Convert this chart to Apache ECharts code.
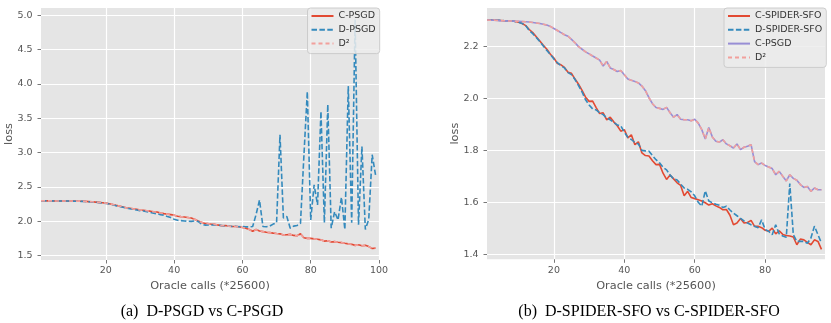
<!DOCTYPE html>
<html><head><meta charset="utf-8">
<script src="https://cdn.jsdelivr.net/npm/echarts@6/dist/echarts.min.js"></script>
<style>
html,body{margin:0;padding:0;background:#fff;width:831px;height:323px;overflow:hidden}
#a{position:absolute;left:0;top:0;width:420px;height:323px}
#b{position:absolute;left:420px;top:0;width:411px;height:323px}
</style>
</head><body><div id="a"></div><div id="b"></div>
<script>
// ---------- data ----------
const leftCPSGD = [2.300,2.299,2.298,2.298,2.297,2.297,2.296,2.296,2.295,2.295,
  2.294,2.293,2.292,2.290,2.287,2.284,2.280,2.276,2.271,2.265,
  2.255,2.245,2.232,2.222,2.210,2.198,2.190,2.182,2.175,2.165,
  2.162,2.155,2.148,2.140,2.135,2.120,2.112,2.105,2.098,2.090,
  2.075,2.068,2.062,2.055,2.048,2.030,2.005,1.985,1.968,1.966,
  1.958,1.955,1.945,1.935,1.940,1.930,1.925,1.924,1.922,1.910,
  1.900,1.880,1.855,1.880,1.860,1.850,1.840,1.835,1.828,1.822,
  1.818,1.800,1.805,1.810,1.795,1.790,1.820,1.760,1.752,1.752,
  1.745,1.738,1.730,1.712,1.718,1.700,1.705,1.695,1.690,1.680,
  1.672,1.665,1.650,1.658,1.645,1.650,1.632,1.604,1.610];
const leftDPSGD = [2.300,2.299,2.298,2.298,2.297,2.297,2.296,2.295,2.295,2.294,
  2.293,2.292,2.290,2.288,2.285,2.282,2.278,2.273,2.268,2.262,
  2.252,2.240,2.228,2.216,2.204,2.192,2.184,2.175,2.165,2.155,
  2.150,2.140,2.130,2.118,2.110,2.098,2.090,2.072,2.055,2.030,
  2.015,2.010,2.005,2.002,2.000,2.005,2.000,1.960,1.945,1.948,
  1.946,1.950,1.945,1.938,1.930,1.932,1.925,1.928,1.922,1.925,
  1.920,1.918,1.925,2.100,2.310,1.925,1.920,1.930,1.960,1.980,
  3.260,2.050,2.070,1.900,1.930,1.940,1.970,2.950,3.890,2.020,
  2.530,2.240,3.600,1.980,3.700,1.900,2.140,2.020,2.350,1.880,
  3.970,1.980,4.940,1.950,3.090,1.880,2.030,2.970,2.670];
const leftD2 = [2.300,2.299,2.298,2.298,2.297,2.297,2.296,2.296,2.295,2.295,
  2.294,2.293,2.292,2.290,2.287,2.284,2.280,2.276,2.271,2.265,
  2.255,2.245,2.232,2.222,2.210,2.198,2.190,2.182,2.175,2.165,
  2.162,2.155,2.148,2.140,2.135,2.120,2.112,2.105,2.098,2.090,
  2.075,2.068,2.062,2.055,2.048,2.030,2.005,1.985,1.968,1.966,
  1.958,1.955,1.945,1.935,1.940,1.930,1.925,1.924,1.922,1.910,
  1.900,1.880,1.855,1.880,1.860,1.850,1.840,1.835,1.828,1.822,
  1.818,1.800,1.805,1.810,1.795,1.790,1.820,1.760,1.752,1.752,
  1.745,1.738,1.730,1.712,1.718,1.700,1.705,1.695,1.690,1.680,
  1.672,1.665,1.650,1.658,1.645,1.650,1.632,1.604,1.610];

const rightCSPIDER = [2.303,2.303,2.302,2.302,2.301,2.300,2.300,2.299,2.297,2.294,
  2.289,2.281,2.266,2.254,2.238,2.222,2.205,2.190,2.171,2.156,
  2.135,2.130,2.120,2.101,2.097,2.075,2.055,2.031,2.005,1.989,
  1.990,1.965,1.942,1.945,1.918,1.928,1.910,1.895,1.874,1.880,
  1.848,1.860,1.822,1.833,1.790,1.780,1.778,1.760,1.745,1.746,
  1.712,1.688,1.705,1.690,1.675,1.665,1.625,1.642,1.618,1.614,
  1.610,1.605,1.598,1.589,1.594,1.586,1.580,1.571,1.572,1.550,
  1.513,1.520,1.537,1.520,1.522,1.530,1.507,1.507,1.502,1.492,
  1.488,1.500,1.478,1.490,1.476,1.472,1.470,1.466,1.436,1.458,
  1.455,1.445,1.436,1.455,1.449,1.418];
const rightDSPIDER = [2.303,2.303,2.302,2.302,2.301,2.300,2.300,2.299,2.297,2.294,
  2.289,2.281,2.262,2.250,2.235,2.220,2.202,2.185,2.170,2.152,
  2.138,2.126,2.118,2.100,2.092,2.073,2.050,2.025,1.995,1.975,
  1.960,1.956,1.945,1.938,1.925,1.918,1.908,1.898,1.895,1.870,
  1.850,1.842,1.830,1.825,1.800,1.798,1.797,1.780,1.764,1.752,
  1.735,1.725,1.705,1.690,1.686,1.670,1.655,1.650,1.640,1.625,
  1.600,1.585,1.644,1.605,1.598,1.592,1.588,1.580,1.585,1.570,
  1.558,1.548,1.538,1.528,1.520,1.513,1.507,1.502,1.532,1.495,
  1.488,1.475,1.513,1.478,1.470,1.465,1.672,1.475,1.449,1.449,
  1.449,1.442,1.462,1.508,1.475,1.442];
const rightCPSGD = [2.303,2.302,2.302,2.301,2.300,2.300,2.299,2.299,2.298,2.298,
  2.297,2.296,2.295,2.293,2.291,2.289,2.286,2.283,2.278,2.270,
  2.262,2.254,2.246,2.240,2.228,2.215,2.200,2.190,2.180,2.172,
  2.164,2.156,2.148,2.125,2.143,2.118,2.112,2.104,2.108,2.092,
  2.075,2.070,2.066,2.060,2.048,2.030,2.003,1.980,1.965,1.962,
  1.958,1.966,1.945,1.928,1.938,1.920,1.918,1.918,1.914,1.920,
  1.905,1.880,1.844,1.888,1.852,1.835,1.832,1.841,1.825,1.818,
  1.809,1.825,1.803,1.812,1.816,1.822,1.757,1.745,1.751,1.742,
  1.736,1.730,1.706,1.719,1.700,1.682,1.706,1.692,1.685,1.668,
  1.657,1.661,1.642,1.655,1.648,1.648];
const rightD2 = [2.303,2.302,2.302,2.301,2.300,2.300,2.299,2.299,2.298,2.298,
  2.297,2.296,2.295,2.293,2.291,2.289,2.286,2.283,2.278,2.270,
  2.262,2.254,2.246,2.240,2.228,2.215,2.200,2.190,2.180,2.172,
  2.164,2.156,2.148,2.125,2.143,2.118,2.112,2.104,2.108,2.092,
  2.075,2.070,2.066,2.060,2.048,2.030,2.003,1.980,1.965,1.962,
  1.958,1.966,1.945,1.928,1.938,1.920,1.918,1.918,1.914,1.920,
  1.905,1.880,1.844,1.888,1.852,1.835,1.832,1.841,1.825,1.818,
  1.809,1.825,1.803,1.812,1.816,1.822,1.757,1.745,1.751,1.742,
  1.736,1.730,1.706,1.719,1.700,1.682,1.706,1.692,1.685,1.668,
  1.657,1.661,1.642,1.655,1.648,1.648];

const xTicksLeft = [20, 40, 60, 80, 100];
const yTicksLeft = [1.5, 2.0, 2.5, 3.0, 3.5, 4.0, 4.5, 5.0];
const xTicksRight = [20, 40, 60, 80];
const yTicksRight = [1.4, 1.6, 1.8, 2.0, 2.2];
const xName = 'Oracle calls (*25600)';
const yName = 'loss';
const captionLeft = '(a)  D-PSGD vs C-PSGD';
const captionRight = '(b)  D-SPIDER-SFO vs C-SPIDER-SFO';

// ---------- styling ----------
const RED = '#E24A33', BLUE = '#348ABD', PURPLE = '#988ED5', PINK = '#F2A09C';
const FONT = 'DejaVu Sans';
const pairs = arr => arr.map((v, i) => [i + 1, v]);

function mkSeries(name, arr, color, dash) {
  return {
    type: 'line', name: name, data: pairs(arr), symbol: 'none', silent: true,
    lineStyle: { color: color, width: 1.6, type: dash || 'solid' },
    itemStyle: { color: color }, animation: false
  };
}

function mkOption(o) {
  return {
    animation: false,
    grid: { left: o.gridLeft, top: 8, width: 338, height: o.gridH, show: true,
      backgroundColor: '#E5E5E5', borderWidth: 0, containLabel: false, outerBoundsMode: 'none' },
    xAxis: {
      type: 'value', min: 1, max: o.xMax,
      name: xName, nameLocation: 'middle', nameGap: 18,
      nameTextStyle: { color: '#555555', fontSize: 11.3, fontFamily: FONT },
      axisLine: { show: false },
      axisTick: { show: true, customValues: o.xTicks, length: 3.5, lineStyle: { color: '#555555', width: 0.8 } },
      axisLabel: { customValues: o.xTicks, color: '#555555', fontSize: 9.5, fontFamily: FONT, margin: 6 },
      splitLine: { show: true, lineStyle: { color: '#FFFFFF', width: 1.2 } }
    },
    yAxis: {
      type: 'value', min: o.yMin, max: o.yMax,
      name: yName, nameLocation: 'middle', nameGap: 26, nameMoveOverlap: false,
      nameTextStyle: { color: '#555555', fontSize: 11.3, fontFamily: FONT },
      axisLine: { show: false },
      axisTick: { show: true, customValues: o.yTicks, length: 3.5, lineStyle: { color: '#555555', width: 0.8 } },
      axisLabel: { customValues: o.yTicks, color: '#555555', fontSize: 9.5, fontFamily: FONT, margin: 8.5,
        formatter: v => v.toFixed(1) },
      splitLine: { show: true, lineStyle: { color: '#FFFFFF', width: 1.2 } }
    },
    legend: {
      orient: 'vertical', left: o.legLeft, top: 8,
      padding: [3, 4, 5, 3], itemGap: 3.8, itemWidth: 22, itemHeight: 10,
      backgroundColor: 'rgba(236,236,236,0.85)', borderColor: '#CCCCCC', borderWidth: 1, borderRadius: 3,
      itemStyle: { opacity: 0 },
      textStyle: { color: '#333333', fontSize: 9.5, fontFamily: FONT, lineHeight: 10 },
      data: o.series.map(s => s.name)
    },
    graphic: [{ type: 'text', x: o.capX, y: 312, silent: true,
      style: { text: o.caption, align: 'center', verticalAlign: 'middle',
        font: '16px "Liberation Serif"', fill: '#000000' } }],
    series: o.series
  };
}

const chartA = echarts.init(document.getElementById('a'), null, { renderer: 'canvas' });
chartA.setOption(mkOption({
  gridLeft: 41, gridH: 252, xMax: 100, yMin: 1.437, yMax: 5.106,
  xTicks: xTicksLeft, yTicks: yTicksLeft, legLeft: 307.5, capX: 202, caption: captionLeft,
  series: [
    mkSeries('C-PSGD', leftCPSGD, RED),
    mkSeries('D-PSGD', leftDPSGD, BLUE, [5.5, 2.4]),
    mkSeries('D²', leftD2, PINK, [4, 3])
  ]
}));

const chartB = echarts.init(document.getElementById('b'), null, { renderer: 'canvas' });
chartB.setOption(mkOption({
  gridLeft: 67, gridH: 251.3, xMax: 97, yMin: 1.38, yMax: 2.349,
  xTicks: xTicksRight, yTicks: yTicksRight, legLeft: 304, capX: 229, caption: captionRight,
  series: [
    mkSeries('C-SPIDER-SFO', rightCSPIDER, RED),
    mkSeries('D-SPIDER-SFO', rightDSPIDER, BLUE, [5.5, 2.4]),
    mkSeries('C-PSGD', rightCPSGD, PURPLE),
    mkSeries('D²', rightD2, PINK, [4, 3])
  ]
}));
</script>
</body></html>
